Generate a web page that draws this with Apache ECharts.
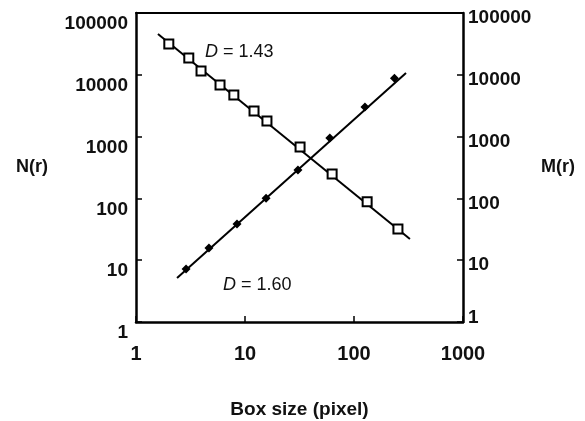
<!DOCTYPE html>
<html>
<head>
<meta charset="utf-8">
<script src="https://cdn.jsdelivr.net/npm/echarts@6/dist/echarts.min.js"></script>
<style>
  html, body { margin: 0; padding: 0; background: #fff; }
  #chart { width: 585px; height: 421px; }
</style>
</head>
<body>
<div id="chart"></div>
<script>
// box sizes and counts
const boxN = [2, 3.05, 3.95, 5.9, 7.9, 12.1, 15.9, 32, 63, 132, 253];
const countN = [31600, 18700, 11500, 6840, 4710, 2600, 1790, 680, 248, 88, 32];
const boxM = [2.88, 4.67, 8.45, 15.6, 30.6, 60, 126, 235];
const massM = [7.2, 15.7, 38.5, 101, 288, 950, 3000, 8800];
// fitted lines (end points)
const fitNx = [1.59, 326];
const fitNy = [45700, 22];
const fitMx = [2.38, 300];
const fitMy = [5.15, 10700];

const pairs = (xs, ys) => xs.map((x, i) => [x, ys[i]]);
const font = "Liberation Sans";
const weight = "bold";

let myChart = echarts.init(document.getElementById("chart"));

const axisLine = { show: true, lineStyle: { color: "#000", width: 2.5 } };
const tickIn = { show: true, inside: true, length: 6, lineStyle: { color: "#000", width: 1.5 } };
const txt = size => ({ color: "#111", fontSize: size, fontFamily: font, fontWeight: weight });

const option = {
  backgroundColor: "#fff",
  animation: false,
  grid: { left: 136, right: 122, top: 13, bottom: 99, outerBoundsMode: "none", containLabel: false },
  xAxis: [
    {
      type: "log",
      logBase: 10,
      min: 1,
      max: 1000,
      axisLine: axisLine,
      axisTick: tickIn,
      splitLine: { show: false },
      axisLabel: Object.assign(txt(20), { margin: 22, formatter: v => String(v) }),
      name: "Box size (pixel)",
      nameLocation: "middle",
      nameGap: 78,
      nameTextStyle: txt(19)
    },
    {
      type: "log",
      position: "top",
      min: 1,
      max: 1000,
      axisLine: { show: true, lineStyle: { color: "#000", width: 2 } },
      axisTick: { show: false },
      axisLabel: { show: false },
      splitLine: { show: false }
    }
  ],
  yAxis: [
    {
      type: "log",
      logBase: 10,
      min: 1,
      max: 100000,
      position: "left",
      axisLine: axisLine,
      axisTick: tickIn,
      splitLine: { show: false },
      axisLabel: {
        margin: 8,
        formatter: v => "{s|" + v + "}",
        rich: { s: Object.assign(txt(19), { padding: [22, 0, 0, 0] }) }
      },
      name: "N(r)",
      nameLocation: "middle",
      nameRotate: 0,
      nameGap: 88,
      nameTextStyle: txt(18)
    },
    {
      type: "log",
      logBase: 10,
      min: 1,
      max: 100000,
      position: "right",
      axisLine: axisLine,
      axisTick: tickIn,
      splitLine: { show: false },
      axisLabel: {
        margin: 5,
        formatter: v => (v === 1 ? "{b|1}" : "{s|" + v + "}"),
        rich: {
          s: Object.assign(txt(19), { padding: [10, 0, 0, 0] }),
          b: Object.assign(txt(19), { padding: [0, 0, 8, 0] })
        }
      },
      name: "M(r)",
      nameLocation: "middle",
      nameRotate: 0,
      nameGap: 78,
      nameTextStyle: Object.assign(txt(18), { padding: [0, 0, 6, 0] })
    }
  ],
  graphic: [
    {
      type: "text", left: 205, top: 43,
      style: { text: "D", font: "italic 18px " + font, fill: "#111" }
    },
    {
      type: "text", left: 223, top: 43,
      style: { text: "= 1.43", font: "18px " + font, fill: "#111" }
    },
    {
      type: "text", left: 223, top: 276,
      style: { text: "D", font: "italic 18px " + font, fill: "#111" }
    },
    {
      type: "text", left: 241, top: 276,
      style: { text: "= 1.60", font: "18px " + font, fill: "#111" }
    }
  ],
  series: [
    {
      name: "N fit",
      type: "line",
      yAxisIndex: 0,
      data: pairs(fitNx, fitNy),
      symbol: "none",
      lineStyle: { color: "#000", width: 2 },
      z: 2
    },
    {
      name: "M fit",
      type: "line",
      yAxisIndex: 1,
      data: pairs(fitMx, fitMy),
      symbol: "none",
      lineStyle: { color: "#000", width: 2 },
      z: 2
    },
    {
      name: "N(r)",
      type: "scatter",
      yAxisIndex: 0,
      data: pairs(boxN, countN),
      symbol: "rect",
      symbolSize: 9,
      itemStyle: { color: "#fff", borderColor: "#000", borderWidth: 2, opacity: 1 },
      z: 3
    },
    {
      name: "M(r)",
      type: "scatter",
      yAxisIndex: 1,
      data: pairs(boxM, massM),
      symbol: "diamond",
      symbolSize: 9,
      itemStyle: { color: "#000", opacity: 1 },
      z: 3
    }
  ]
};
myChart.setOption(option);
</script>
</body>
</html>
